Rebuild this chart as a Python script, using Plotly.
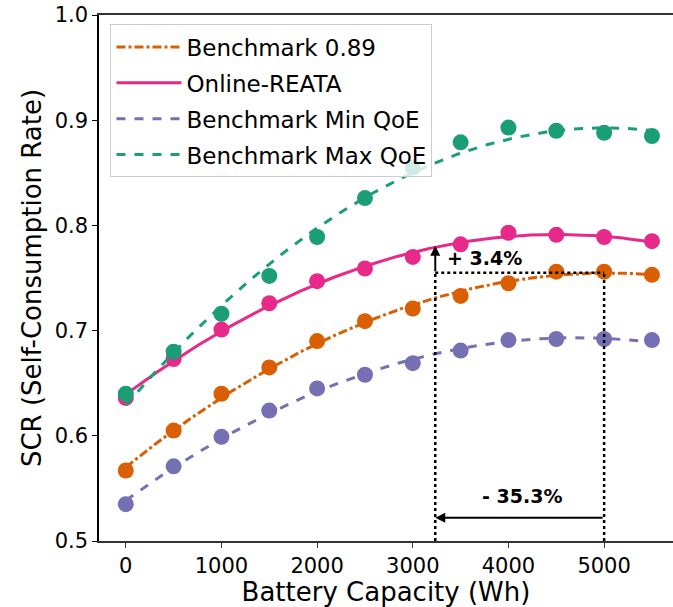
import numpy as np
import plotly.graph_objects as go

# Battery capacity (Wh)
capacity = [0, 500, 1000, 1500, 2000, 2500, 3000, 3500, 4000, 4500, 5000, 5500]

# Self-consumption rate per strategy
scr_bench_089 = [0.567, 0.605, 0.640, 0.665, 0.690, 0.709, 0.721, 0.733, 0.745, 0.756, 0.756, 0.753]
scr_online_reata = [0.636, 0.673, 0.701, 0.726, 0.747, 0.759, 0.770, 0.782, 0.793, 0.791, 0.789, 0.785]
scr_min_qoe = [0.535, 0.571, 0.599, 0.624, 0.645, 0.658, 0.669, 0.681, 0.691, 0.692, 0.692, 0.691]
scr_max_qoe = [0.640, 0.680, 0.716, 0.752, 0.789, 0.826, 0.855, 0.879, 0.893, 0.890, 0.888, 0.885]

series_names = ["Benchmark 0.89", "Online-REATA", "Benchmark Min QoE", "Benchmark Max QoE"]
colors = ["#d95f02", "#e7298a", "#7570b3", "#1b9e77"]
dashes = ["dashdot", "solid", "dash", "dash"]

# Annotation values
ref_capacity = 5000
capacity_reduction = 0.353
scr_gain = 0.034
ref_scr = 0.755

FONT = "DejaVu Sans"

fig = go.Figure()
all_series = [scr_bench_089, scr_online_reata, scr_min_qoe, scr_max_qoe]
x_fine = np.linspace(min(capacity), max(capacity), 200)
for i, (name, ys, col, dsh) in enumerate(zip(series_names, all_series, colors, dashes)):
    coef = np.polyfit(capacity, ys, 2)
    fig.add_trace(go.Scatter(
        x=capacity, y=ys, mode="markers", showlegend=False,
        marker=dict(size=16, color=col), legendgroup=f"g{i}",
    ))
    fig.add_trace(go.Scatter(
        x=x_fine, y=np.polyval(coef, x_fine), mode="lines", name=name,
        line=dict(color=col, width=3, dash=dsh), legendgroup=f"g{i}",
    ))

x_reduced = ref_capacity * (1 - capacity_reduction)
y_gain = ref_scr * (1 + scr_gain)
dot = dict(color="black", width=2.5, dash="dot")

# dotted guide lines
fig.add_shape(type="line", x0=x_reduced, x1=x_reduced, y0=0.5, y1=ref_scr, line=dot, layer="above")
fig.add_shape(type="line", x0=ref_capacity, x1=ref_capacity, y0=0.5, y1=ref_scr, line=dot, layer="above")
fig.add_shape(type="line", x0=x_reduced, x1=ref_capacity, y0=ref_scr, y1=ref_scr, line=dot, layer="above")

# arrows
fig.add_annotation(x=x_reduced, y=y_gain, ax=x_reduced, ay=ref_scr, xref="x", yref="y",
                   axref="x", ayref="y", text="", showarrow=True, arrowhead=2,
                   arrowsize=1, arrowwidth=2, arrowcolor="black")
fig.add_annotation(x=x_reduced, y=0.522, ax=ref_capacity, ay=0.522, xref="x", yref="y",
                   axref="x", ayref="y", text="", showarrow=True, arrowhead=2,
                   arrowsize=1, arrowwidth=2, arrowcolor="black")
fig.add_annotation(x=3340, y=0.769, text=f"<b>+ {scr_gain*100:.1f}%</b>", showarrow=False,
                   xanchor="left", yanchor="middle", font=dict(family=FONT, size=19, color="black"))
fig.add_annotation(x=(x_reduced + ref_capacity) / 2 + 25, y=0.543,
                   text=f"<b>- {capacity_reduction*100:.1f}%</b>", showarrow=False,
                   xanchor="center", yanchor="middle", font=dict(family=FONT, size=19, color="black"))

fig.update_layout(
    width=673, height=607,
    margin=dict(l=99, r=0, t=15, b=66),
    plot_bgcolor="white", paper_bgcolor="white",
    font=dict(family=FONT, size=21, color="black"),
    showlegend=True,
    legend=dict(
        x=0.02, y=0.982, xanchor="left", yanchor="top",
        bgcolor="rgba(255,255,255,0.8)", bordercolor="#cccccc", borderwidth=1,
        font=dict(family=FONT, size=23, color="black"),
        traceorder="grouped", tracegroupgap=3, itemwidth=65,
    ),
    xaxis=dict(
        range=[-280, 5720], tickvals=[0, 1000, 2000, 3000, 4000, 5000],
        showgrid=False, zeroline=False, showline=True, linecolor="#333333", linewidth=1.5,
        mirror=True, ticks="outside", ticklen=5, tickwidth=1.2, tickcolor="#333333",
        tickfont=dict(size=21),
        title=dict(text="Battery Capacity (Wh)", font=dict(size=26), standoff=2),
    ),
    yaxis=dict(
        range=[0.5, 1.0], tickvals=[0.5, 0.6, 0.7, 0.8, 0.9, 1.0], tickformat=".1f",
        showgrid=False, zeroline=False, showline=True, linecolor="black", linewidth=1.5,
        ticks="outside", ticklen=5, tickwidth=1.2, tickcolor="black",
        tickfont=dict(size=21),
        title=dict(text="SCR (Self-Consumption Rate)", font=dict(size=26), standoff=6),
    ),
)

fig.write_html("out.html")
